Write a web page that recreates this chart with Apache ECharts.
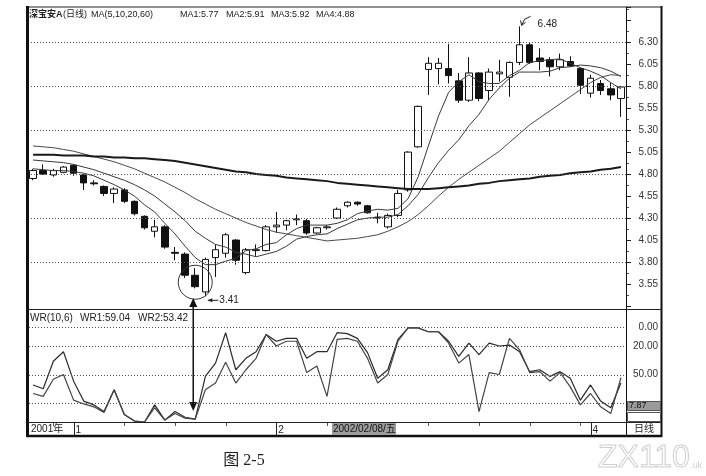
<!DOCTYPE html>
<html><head><meta charset="utf-8">
<script src="https://cdn.jsdelivr.net/npm/echarts@6/dist/echarts.min.js"></script>
<style>html,body{margin:0;padding:0;background:#fff}#c{width:706px;height:476px}</style>
</head><body><div id="c"></div>
<script>
// ---------------- data ----------------
const categories = ['2001-12-26','2001-12-27','2001-12-28','2001-12-31',
'2002-01-04','2002-01-07','2002-01-08','2002-01-09','2002-01-10','2002-01-11',
'2002-01-14','2002-01-15','2002-01-16','2002-01-17','2002-01-18',
'2002-01-21','2002-01-22','2002-01-23','2002-01-24','2002-01-25',
'2002-01-28','2002-01-29','2002-01-30','2002-01-31',
'2002-02-01','2002-02-04','2002-02-05','2002-02-06','2002-02-07','2002-02-08',
'2002-02-25','2002-02-26','2002-02-27','2002-02-28',
'2002-03-01','2002-03-04','2002-03-05','2002-03-06','2002-03-07','2002-03-08',
'2002-03-11','2002-03-12','2002-03-13','2002-03-14','2002-03-15',
'2002-03-18','2002-03-19','2002-03-20','2002-03-21','2002-03-22',
'2002-03-25','2002-03-26','2002-03-27','2002-03-28','2002-03-29',
'2002-04-01','2002-04-02','2002-04-03','2002-04-04'];

const opens  = [4.75,4.84,4.79,4.82,4.90,4.79,4.70,4.66,4.58,4.62,
                4.49,4.32,4.15,4.20,3.91,3.89,3.65,3.46,3.85,3.90,
                4.05,3.68,3.93,3.93,4.20,4.22,4.28,4.27,4.13,4.19,
                4.30,4.44,4.48,4.44,4.31,4.20,4.33,4.62,5.11,5.99,
                6.00,6.00,5.86,5.64,5.95,5.75,5.94,5.90,6.07,6.27,
                6.12,6.10,6.02,6.08,6.00,5.72,5.83,5.77,5.66];
const closes = [4.84,4.80,4.84,4.88,4.81,4.70,4.69,4.58,4.63,4.49,
                4.35,4.19,4.20,3.97,3.90,3.65,3.52,3.83,3.94,4.11,
                3.82,3.94,3.94,4.20,4.22,4.27,4.29,4.13,4.19,4.20,
                4.40,4.48,4.46,4.36,4.30,4.33,4.58,5.05,5.57,6.06,
                6.06,5.92,5.64,5.95,5.66,5.96,5.96,6.07,6.27,6.07,
                6.08,6.02,6.10,6.03,5.81,5.89,5.75,5.70,5.79];
const lows   = [4.73,4.79,4.77,4.81,4.78,4.62,4.67,4.55,4.47,4.47,
                4.33,4.17,4.08,3.95,3.82,3.62,3.50,3.41,3.63,3.85,
                3.77,3.66,3.87,3.92,4.13,4.16,4.22,4.11,4.12,4.17,
                4.29,4.42,4.44,4.35,4.24,4.18,4.31,4.60,5.10,5.70,
                5.82,5.83,5.61,5.62,5.63,5.64,5.85,5.68,6.04,6.05,
                5.98,5.91,5.98,6.02,5.71,5.67,5.70,5.64,5.45];
const highs  = [4.86,4.91,4.86,4.89,4.91,4.80,4.73,4.67,4.65,4.64,
                4.50,4.33,4.28,4.22,3.97,3.91,3.73,3.85,4.00,4.13,
                4.06,3.96,4.00,4.22,4.37,4.28,4.34,4.29,4.20,4.22,
                4.42,4.49,4.49,4.45,4.36,4.35,4.62,5.06,5.58,6.13,
                6.12,6.28,5.95,6.13,5.96,6.00,6.10,6.08,6.48,6.29,
                6.23,6.13,6.17,6.14,6.01,5.93,5.87,5.84,5.80];

const ma5  = [4.86,4.85,4.84,4.84,4.83,4.81,4.78,4.73,4.68,4.62,
              4.55,4.45,4.37,4.24,4.12,3.98,3.85,3.77,3.77,3.81,
              3.84,3.93,3.95,4.00,4.02,4.11,4.18,4.22,4.22,4.22,
              4.24,4.28,4.35,4.38,4.40,4.39,4.41,4.52,4.77,5.12,
              5.46,5.73,5.85,5.93,5.85,5.83,5.83,5.92,5.98,6.07,
              6.09,6.10,6.11,6.06,6.01,5.97,5.92,5.84,5.77];
const ma10 = [4.96,4.95,4.94,4.93,4.91,4.88,4.85,4.81,4.77,4.73,
              4.68,4.62,4.55,4.46,4.37,4.27,4.15,4.07,4.00,3.97,
              3.91,3.89,3.86,3.89,3.92,3.98,4.06,4.09,4.11,4.12,
              4.18,4.23,4.28,4.30,4.31,4.31,4.34,4.44,4.57,4.76,
              4.93,5.07,5.19,5.35,5.48,5.65,5.78,5.89,5.96,5.96,
              5.96,5.97,6.01,6.02,6.04,6.03,6.01,5.97,5.91];
const ma20 = [5.12,5.11,5.10,5.08,5.06,5.03,5.00,4.97,4.94,4.90,
              4.86,4.81,4.76,4.71,4.65,4.59,4.52,4.46,4.40,4.35,
              4.30,4.25,4.21,4.17,4.14,4.12,4.10,4.08,4.06,4.04,
              4.05,4.06,4.07,4.09,4.11,4.15,4.20,4.26,4.34,4.44,
              4.55,4.65,4.74,4.82,4.90,4.98,5.06,5.16,5.26,5.36,
              5.44,5.52,5.60,5.68,5.76,5.84,5.90,5.93,5.92];
const ma60 = [5.02,5.02,5.02,5.01,5.01,5.01,5.00,5.00,4.99,4.99,
              4.98,4.98,4.97,4.96,4.95,4.93,4.91,4.89,4.87,4.85,
              4.83,4.82,4.80,4.79,4.78,4.76,4.75,4.74,4.73,4.72,
              4.70,4.69,4.68,4.67,4.66,4.65,4.64,4.63,4.63,4.63,
              4.64,4.65,4.66,4.67,4.69,4.70,4.72,4.73,4.74,4.75,
              4.77,4.78,4.79,4.81,4.82,4.83,4.85,4.86,4.88];

const wr1 = [61,65,36,26,57,78,82,89,66,92,
             99,100,82,98,89,95,97,52,38,6,
             45,33,26,8,15,12,12,33,26,26,
             6,7,12,27,54,45,13,1,1,5,
             5,15,31,17,29,17,20,19,26,47,
             45,52,47,54,77,61,78,85,59.04];
const wr2 = [70,73,55,50,77,81,84,90,66,92,
             99,100,85,98,91,96,97,66,59,37,
             59,45,33,8,20,15,15,48,41,73,
             13,12,15,33,59,50,15,1,1,5,
             5,17,38,29,89,48,50,12,24,48,
             47,57,48,63,82,70,84,91,53.42];

const priceTicks = ['3.55','3.80','4.05','4.30','4.55','4.80','5.05','5.30','5.55','5.80','6.05','6.30'];
const priceGrid = [3.80,4.30,4.80,5.30,5.80,6.30];
const wrTicks = ['0.00','20.00','50.00'];
const wrGrid = [0,20,50,80];
const cursorDate = '2002/02/08/五';
const lastWRBox = '7.87';

// -------- derived axis helpers --------
const mon = categories.map(d => parseInt(d.slice(5,7),10));
const monthStart = categories.map((d,i) => i > 0 && mon[i] !== mon[i-1]);
const monthText = categories.map((d,i) => monthStart[i] ? String(mon[i]) : '');
const weekTick = categories.map(d => new Date(d + 'T00:00:00Z').getUTCDay() === 5);

const FONT = '"Liberation Sans", Arial, "Noto Sans CJK SC", sans-serif';
const ohlc = opens.map((o,i) => [o, closes[i], lows[i], highs[i]]);

const chart = echarts.init(document.getElementById('c'), null, {renderer:'canvas'});
chart.setOption({
  animation:false,
  backgroundColor:'#ffffff',
  grid:[{left:28,right:80,top:7,height:299},{left:28,right:80,top:308,height:114}],
  xAxis:[
    {type:'category', gridIndex:0, data:categories, boundaryGap:true, show:false},
    {type:'category', gridIndex:1, data:categories, boundaryGap:true, position:'bottom',
     axisLine:{show:false},
     axisTick:{show:false},
     axisLabel:{show:true, interval:(i)=>monthStart[i], formatter:(v,i)=>monthText[i], align:'left',
                margin:3, padding:[0,0,0,2], fontSize:10, fontFamily:FONT, color:'#222'},
     splitLine:{show:false}}
  ],
  yAxis:[
    {type:'value', gridIndex:0, min:3.30, max:6.70, show:false, splitLine:{show:false}},
    {type:'value', gridIndex:0, min:3.25, max:6.65, interval:0.25, position:'right',
     axisLine:{show:true, lineStyle:{color:'#111', width:1}},
     axisTick:{show:true, length:5, lineStyle:{color:'#222'}},
     minorTick:{show:true, splitNumber:2, length:3, lineStyle:{color:'#555'}},
     axisLabel:{show:true, align:'right', margin:32, fontSize:10, fontFamily:FONT, color:'#333',
       formatter:(v)=>{ const s=(Math.round((v+0.05)*100)/100).toFixed(2); return priceTicks.includes(s)?s:''; }},
     splitLine:{show:false}},
    {type:'value', gridIndex:1, min:-20, max:100, interval:10, inverse:true, position:'right',
     axisLine:{show:false}, axisTick:{show:false},
     axisLabel:{show:true, align:'right', margin:32, fontSize:10, fontFamily:FONT, color:'#333',
       formatter:(v)=>{ const s=Number(v).toFixed(2); return wrTicks.includes(s)?s:''; }},
     splitLine:{show:false}}
  ],
  series:[
    {type:'candlestick', name:'K', xAxisIndex:0, yAxisIndex:0, data:ohlc, barWidth:7, z:3,
     itemStyle:{color:'#ffffff', color0:'#111111', borderColor:'#111111', borderColor0:'#111111', borderWidth:1},
     markLine:{silent:true, symbol:['none','none'], label:{show:false},
       lineStyle:{type:[1,2], color:'#555', width:1}, data:priceGrid.map(v=>({yAxis:v}))}},
    {type:'line', name:'MA5', xAxisIndex:0, yAxisIndex:0, data:ma5, symbol:'none', z:4,
     lineStyle:{color:'#3a3a3a', width:1}},
    {type:'line', name:'MA10', xAxisIndex:0, yAxisIndex:0, data:ma10, symbol:'none', z:4,
     lineStyle:{color:'#3a3a3a', width:1}},
    {type:'line', name:'MA20', xAxisIndex:0, yAxisIndex:0, data:ma20, symbol:'none', z:4,
     lineStyle:{color:'#4a4a4a', width:1}},
    {type:'line', name:'MA60', xAxisIndex:0, yAxisIndex:0, data:ma60, symbol:'none', z:4,
     lineStyle:{color:'#1a1a1a', width:2}},
    {type:'line', name:'WR1', xAxisIndex:1, yAxisIndex:2, data:wr1, symbol:'none', z:4,
     lineStyle:{color:'#2a2a2a', width:1.2}},
    {type:'line', name:'WR2', xAxisIndex:1, yAxisIndex:2, data:wr2, symbol:'none', z:4,
     lineStyle:{color:'#444', width:1.2}}
  ]
});

// -------- annotations / frame --------
const P = (i,v) => chart.convertToPixel({xAxisIndex:0, yAxisIndex:0}, [i,v]);
const PW = (i,v) => chart.convertToPixel({xAxisIndex:1, yAxisIndex:2}, [i,v]);
const last = a => a[a.length-1];
const txt = (x,y,t,opt={}) => ({type:'text', x:x, y:y, z:20, silent:true,
  style:Object.assign({text:t, font:(opt.bold?'bold ':'')+(opt.size||10)+'px '+FONT, fill:opt.fill||'#222',
    textAlign:opt.align||'left', align:opt.align||'left', textVerticalAlign:'middle', verticalAlign:'middle'}, opt.style||{})});
const line = (x1,y1,x2,y2,w,c) => ({type:'line', z:15, silent:true, shape:{x1:x1,y1:y1,x2:x2,y2:y2}, style:{stroke:c||'#111', lineWidth:w||1}});

const idxLow = lows.indexOf(Math.min(...lows));
const idxHigh = highs.indexOf(Math.max(...highs));
const pLow = P(idxLow, lows[idxLow]);
const pHigh = P(idxHigh, highs[idxHigh]);
const pCirc = P(idxLow-1, 3.57);
const arrowX = P(idxLow-1, 3.5)[0] - 2;
const idxCursor = categories.indexOf('2002-02-08');
const pCur = P(idxCursor, 4)[0];

const g = [
  // outer frame
  line(28,7,662,7,1,'#222'),
  line(27.5,6,27.5,437,3,'#111'),
  line(661.5,6,661.5,437,2,'#111'),
  line(27,436,662,436,2.5,'#111'),
  line(626.5,7,626.5,436,1,'#111'),
  line(28,309.5,662,309.5,1,'#222'),
  line(28,422.5,662,422.5,1,'#222'),
  // legends
  txt(29,15,'深宝安A',{bold:true,size:9}),
  txt(63,15,'(日线)',{size:9}),
  txt(91,15,'MA(5,10,20,60)',{size:9}),
  txt(180,15,'MA1:'+last(ma5).toFixed(2),{size:9}),
  txt(226,15,'MA2:'+last(ma10).toFixed(2),{size:9}),
  txt(271,15,'MA3:'+last(ma20).toFixed(2),{size:9}),
  txt(316,15,'MA4:'+last(ma60).toFixed(2),{size:9}),
  txt(30,318,'WR(10,6)'),
  txt(80,318,'WR1:'+last(wr1).toFixed(2)),
  txt(138,318,'WR2:'+last(wr2).toFixed(2)),
  // low annotation
  {type:'circle', z:15, silent:true, shape:{cx:pCirc[0], cy:pCirc[1], r:17}, style:{fill:'none', stroke:'#333', lineWidth:1}},
  line(pLow[0]+3,pLow[1]+4,pLow[0]+13,pLow[1]+4,1,'#222'),
  {type:'polygon', z:15, silent:true, shape:{points:[[pLow[0]+2,pLow[1]+4],[pLow[0]+7,pLow[1]+2],[pLow[0]+7,pLow[1]+6]]}, style:{fill:'#222'}},
  txt(pLow[0]+14,pLow[1]+4,lows[idxLow].toFixed(2)),
  // high annotation
  {type:'polyline', z:15, silent:true, shape:{points:[[pHigh[0]+11,pHigh[1]-10],[pHigh[0]+5,pHigh[1]-7],[pHigh[0]+2,pHigh[1]-1]]}, style:{stroke:'#222', fill:'none', lineWidth:1}},
  line(pHigh[0]+2,pHigh[1]-1,pHigh[0]+1,pHigh[1]-6,1,'#222'),
  line(pHigh[0]+2,pHigh[1]-1,pHigh[0]+6,pHigh[1]-4,1,'#222'),
  txt(pHigh[0]+18,pHigh[1]-2,highs[idxHigh].toFixed(2)),
  // double arrow between panels
  line(arrowX,305,arrowX,405,1.5,'#111'),
  {type:'polygon', z:15, silent:true, shape:{points:[[arrowX-4,307],[arrowX+4,307],[arrowX,298]]}, style:{fill:'#111'}},
  {type:'polygon', z:15, silent:true, shape:{points:[[arrowX-4,402],[arrowX+4,402],[arrowX,411]]}, style:{fill:'#111'}},
  // bottom strip
  txt(31,429,'2001年'),
  {type:'rect', z:16, silent:true, shape:{x:pCur+5, y:423, width:64, height:12}, style:{fill:'#9c9c9c'}},
  txt(pCur+6,429.5,cursorDate,{fill:'#111'}),
  {type:'rect', z:16, silent:true, shape:{x:627.5, y:401.5, width:33, height:9}, style:{fill:'#9a9a9a', stroke:'#555', lineWidth:1}},
  txt(629,406,lastWRBox,{size:9,fill:'#111'}),
  {type:'rect', z:16, silent:true, shape:{x:627.5, y:412.5, width:33, height:9}, style:{fill:'#fff', stroke:'#555', lineWidth:1}},
  txt(644,429,'日线',{align:'center'}),
  // caption and mark
  {type:'text', x:244, y:461, z:20, silent:true, style:{text:'图 2-5', font:'16px "Liberation Serif", "Noto Sans CJK SC", serif', fill:'#222', textAlign:'center', align:'center', textVerticalAlign:'middle', verticalAlign:'middle'}},
  {type:'text', x:598, y:458, z:20, silent:true, style:{text:'ZX110', font:'32px "Liberation Sans", sans-serif', fill:'rgba(0,0,0,0)', stroke:'#cfcfcf', lineWidth:1, textAlign:'left', align:'left', textVerticalAlign:'middle', verticalAlign:'middle'}},
  {type:'text', x:690, y:466, z:20, silent:true, style:{text:'.uk', font:'9px "Liberation Sans", sans-serif', fill:'#d0d0d0', textAlign:'left', align:'left', textVerticalAlign:'middle', verticalAlign:'middle'}}
];
// WR dotted guide lines, placed through the WR axis, drawn on top
const xL = PW(0, 0)[0] - 6, xR = PW(categories.length - 1, 0)[0] + 6;
wrGrid.forEach(v => {
  const y = Math.round(PW(0, v)[1]) + 0.5;
  g.push({type:'line', z:18, silent:true, shape:{x1:29, y1:y, x2:626, y2:y},
          style:{stroke:'#505050', lineWidth:1, lineDash:[1,2]}});
});
// tick marks on the date strip, anchored to category positions
categories.forEach((d,i) => {
  const x = Math.round(P(i,4)[0]) + 0.5;
  if (monthStart[i]) g.push(line(x,423,x,435,1,'#222'));
  else if (weekTick[i]) g.push(line(x,423,x,426,1,'#555'));
});
chart.setOption({graphic:g});
</script>
</body></html>
